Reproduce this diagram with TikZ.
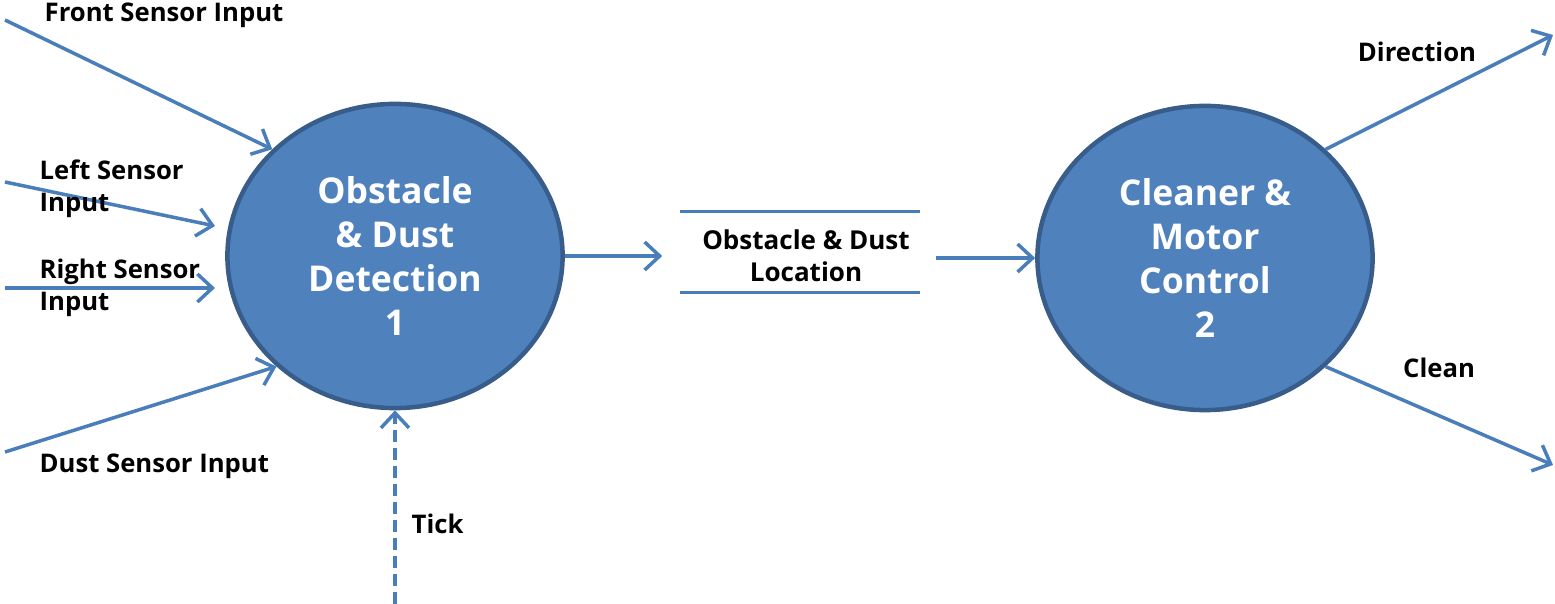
\documentclass[tikz,border=0pt]{standalone}
\usepackage{fontspec}
\setmainfont{Open Sans}
\usetikzlibrary{shapes.geometric,arrows.meta}
\definecolor{lineblue}{RGB}{74,126,187}
\definecolor{fillblue}{RGB}{79,129,189}
\definecolor{edgeblue}{RGB}{56,93,138}
\begin{document}
\begin{tikzpicture}[x=0.01cm,y=-0.01cm,
  proc/.style={ellipse, draw=edgeblue, line width=0.045cm, fill=fillblue,
    minimum width=3.35cm, minimum height=3.04cm, inner sep=0pt, text=white,
    font=\bfseries\fontsize{10.1}{12.6}\selectfont, align=center},
  flow/.style={draw=lineblue, line width=0.035cm,
    -{Straight Barb[length=1.5mm,width=2.8mm]}},
  storeline/.style={draw=lineblue, line width=0.035cm},
  lbl/.style={font=\bfseries\fontsize{7.3}{9.1}\selectfont, inner sep=0pt},
  store/.style={font=\bfseries\fontsize{7.4}{9.1}\selectfont, inner sep=0pt,
    minimum width=2.39cm, minimum height=0.8cm, align=center}]
\useasboundingbox (0,0) rectangle (1555,604);
% processes
\node[proc] (c1) at (395,256) {Obstacle\\\& Dust\\Detection\\1};
\node[proc] (c2) at (1205,258) {Cleaner \&\\Motor\\Control\\2};
% data store
\node[store] (st) at (806,256) {Obstacle \& Dust\\Location};
\draw[storeline] ([shift={(-0.06cm,0.04cm)}]st.north west) -- ([shift={(-0.06cm,0.04cm)}]st.north east);
\draw[storeline] ([shift={(-0.06cm,0.04cm)}]st.south west) -- ([shift={(-0.06cm,0.04cm)}]st.south east);
% free ends
\coordinate (fsi) at (5,20);
\coordinate (lsi) at (5,182);
\coordinate (lse) at (215,226);
\coordinate (rsi) at (5,288);
\coordinate (rse) at (215,288);
\coordinate (dsi) at (5,452);
\coordinate (tk) at (395,604);
\coordinate (dir) at (1553,35);
\coordinate (cln) at (1553,465);
% flows
\draw[flow] (fsi) -- (c1.139);
\draw[flow] (lsi) -- (lse);
\draw[flow] (rsi) -- (rse);
\draw[flow] (dsi) -- (c1.223);
\draw[flow, dash pattern=on 0.12cm off 0.06cm] (tk) -- (c1.south);
\draw[flow, shorten >=0.235cm] (c1.east) -- (c1.east -| st.west);
\draw[flow, shorten <=0.095cm] (st.east |- c2.west) -- (c2.west);
\draw[flow] (c2.42) -- (dir);
\draw[flow] (c2.318) -- (cln);
% labels
\node[lbl] (lfs) at (164,15) {Front Sensor Input};
\node[lbl, anchor=west, align=left] (lls) at (39,189) {Left Sensor\\Input};
\node[lbl, anchor=west, align=left] (lrs) at (39,288) {Right Sensor\\Input};
\node[lbl, anchor=west] (lds) at (39,466) {Dust Sensor Input};
\node[lbl, anchor=west] (ltk) at (411,524) {Tick};
\node[lbl] (ldir) at (1417,52) {Direction};
\node[lbl] (lcl) at (1439,368) {Clean};
\end{tikzpicture}
\end{document}
